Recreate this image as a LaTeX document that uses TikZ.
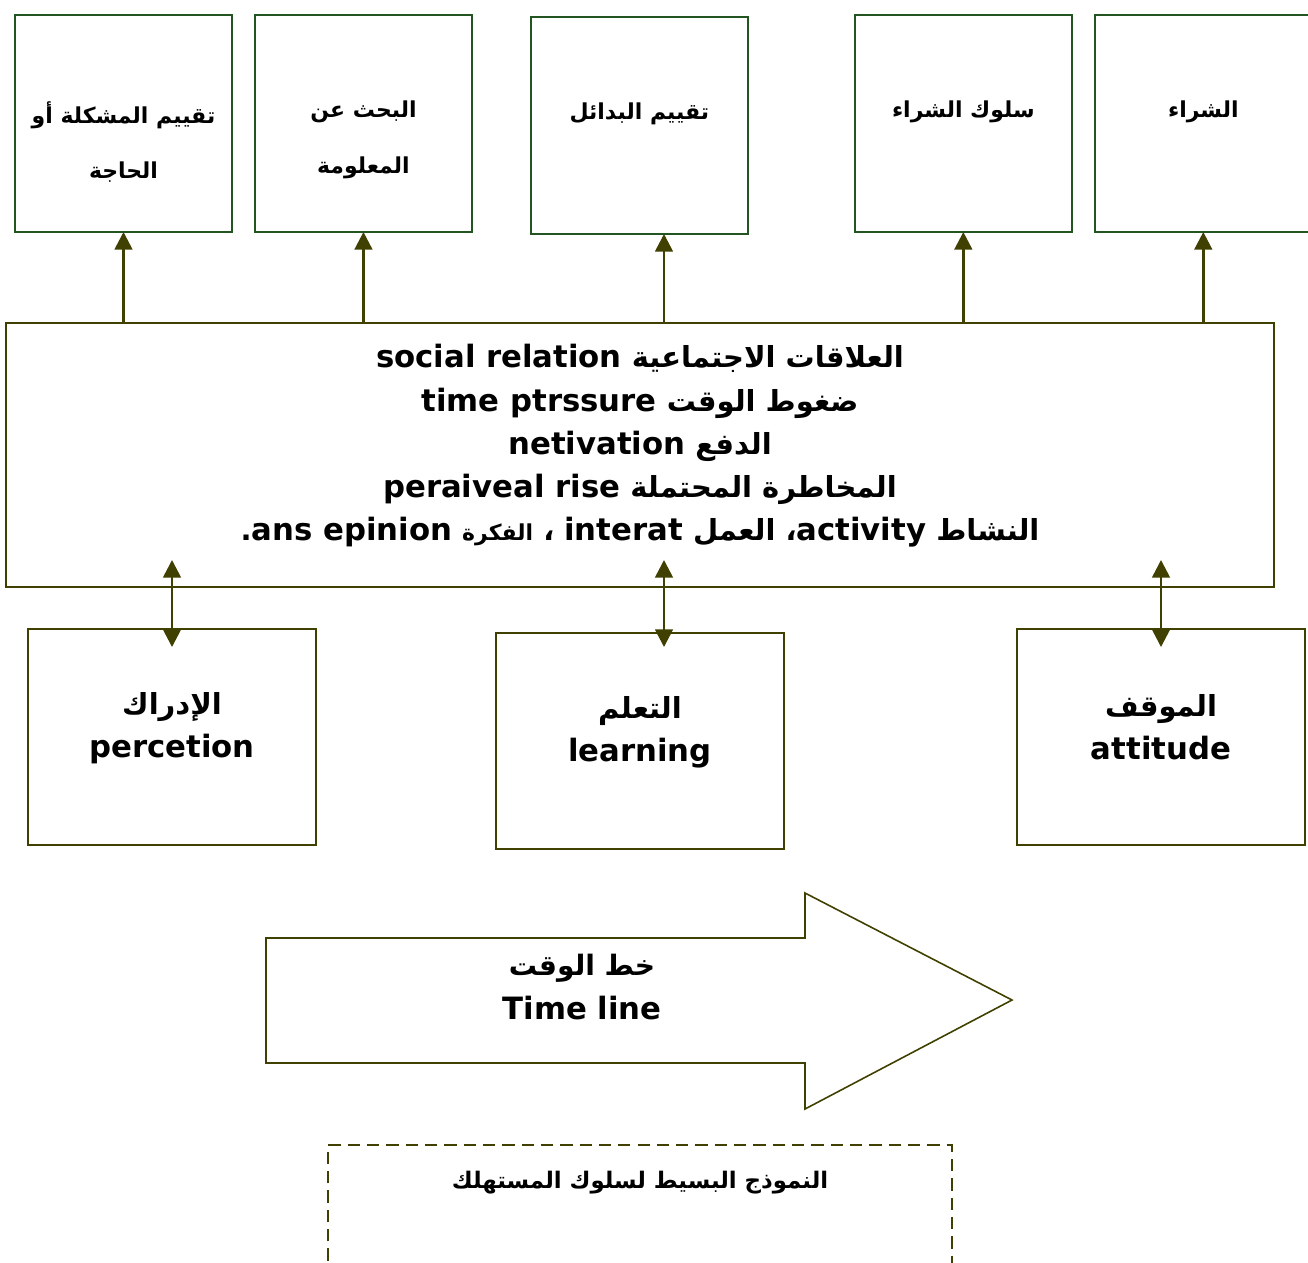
\documentclass[tikz,border=0pt]{standalone}
\usepackage{fontspec}
\setmainfont{DejaVu Sans}
\newfontfamily\arabicfont[Script=Arabic]{DejaVu Sans}
\TeXXeTstate=1
\usetikzlibrary{arrows.meta, positioning, calc}

\definecolor{stagegreen}{RGB}{34,85,34}
\definecolor{olivedark}{RGB}{64,64,0}

\newcommand{\artxt}[1]{{\arabicfont\beginR #1\endR}}
\newcommand{\lattxt}[1]{\beginL{\rmfamily\fontsize{17.5}{24.6}\selectfont #1}\endL}

\begin{document}
\begin{tikzpicture}[
    x=0.02cm, y=-0.02cm,
    % --- STYLES ---
    stagebox/.style={draw=stagegreen, line width=0.9pt, minimum width=4.34cm, minimum height=4.34cm, inner sep=0pt, outer sep=0pt},
    stagetext/.style={anchor=north, align=center, font=\bfseries\fontsize{12.5}{31.5}\selectfont},
    factorbox/.style={draw=olivedark, line width=0.9pt, minimum width=5.76cm, minimum height=4.32cm, inner sep=0pt, outer sep=0pt},
    bigtext/.style={align=center, font=\bfseries\fontsize{17.5}{24.6}\selectfont},
    arrow/.style={-{Triangle[length=10pt, width=10pt]}, line width=1.5pt, draw=olivedark, fill=olivedark},
    double arrow/.style={{Triangle[length=10pt, width=10pt]}-{Triangle[length=10pt, width=10pt]}, line width=1.5pt, draw=olivedark, fill=olivedark}
]
    \useasboundingbox (0,0) rectangle (1308,1262);

    % ==========================================
    % DECISION STAGES (Top Row)
    % ==========================================
    \node[stagebox] (problem) at (123.5,123.5) {};
    \node[stagebox, right=0.46cm of problem] (search) {};
    \node[stagebox, right=1.18cm of search, yshift=-0.04cm] (alternatives) {};
    \node[stagebox, right=2.14cm of alternatives, yshift=0.04cm] (behaviour) {};
    \node[stagebox, right=0.46cm of behaviour] (purchase) {};

    \node[stagetext] (problemtxt) at ([yshift=-1.6cm]problem.north) {\artxt{تقييم المشكلة أو}\\ \artxt{الحاجة}};
    \node[stagetext] (searchtxt) at ([yshift=-1.6cm]search.north) {\artxt{البحث عن}\\ \artxt{المعلومة}};
    \node[stagetext] (alternativestxt) at ([yshift=-1.6cm]alternatives.north) {\artxt{تقييم البدائل}};
    \node[stagetext] (behaviourtxt) at ([yshift=-1.6cm]behaviour.north) {\artxt{سلوك الشراء}};
    \node[stagetext] (purchasetxt) at ([yshift=-1.6cm]purchase.north) {\artxt{الشراء}};

    % ==========================================
    % INFLUENCING FACTORS (Middle Box)
    % ==========================================
    \node[draw=olivedark, line width=0.9pt, outer sep=0pt, minimum width=25.36cm, minimum height=5.28cm] (factors) at (640,455) {};
    \node[align=center, font=\bfseries\fontsize{16.5}{24.6}\selectfont] (factorlist) at (640,446) {%
        \artxt{العلاقات الاجتماعية \lattxt{social relation}}\\
        \artxt{ضغوط الوقت \lattxt{time ptrssure}}\\
        \artxt{الدفع \lattxt{netivation}}\\
        \artxt{المخاطرة المحتملة \lattxt{peraiveal rise}}\\
        \artxt{النشاط \lattxt{activity}، العمل \lattxt{interat} ، {\fontsize{12.5}{14}\selectfont الفكرة} \lattxt{ans epinion}.}};

    \coordinate (midline) at (664,0);

    % Arrows up to the stages
    \draw[arrow] (factors.north -| problem.south) -- (problem.south);
    \draw[arrow] (factors.north -| search.south) -- (search.south);
    \draw[arrow] (factors.north -| midline) -- (alternatives.south -| midline);
    \draw[arrow] (factors.north -| behaviour.south) -- (behaviour.south);
    \draw[arrow] (factors.north -| purchase.south) -- (purchase.south);

    % ==========================================
    % PSYCHOLOGICAL FACTORS (Bottom Row)
    % ==========================================
    \node[factorbox] (perception) at (172,737) {};
    \node[factorbox] (learning) at (640,741) {};
    \node[factorbox] (attitude) at (1161,737) {};

    \node[bigtext] (perceptiontxt) at (172,728) {{\fontsize{16.5}{24.6}\selectfont\artxt{الإدراك}}\\ percetion};
    \node[bigtext] (learningtxt) at (640,732) {{\fontsize{16.5}{24.6}\selectfont\artxt{التعلم}}\\ learning};
    \node[bigtext] (attitudetxt) at (1161,727) {{\fontsize{16.5}{24.6}\selectfont\artxt{الموقف}}\\ attitude};

    \draw[double arrow] ($(factors.south -| perception.north)+(0,-27)$) -- ($(perception.north)+(0,18)$);
    \draw[double arrow] ($(factors.south -| midline)+(0,-27)$) -- ($(learning.north -| midline)+(0,14)$);
    \draw[double arrow] ($(factors.south -| attitude.north)+(0,-27)$) -- ($(attitude.north)+(0,18)$);

    % ==========================================
    % TIME LINE ARROW
    % ==========================================
    \draw[draw=olivedark, line width=0.9pt] (266,938) -- (805,938) -- (805,893) -- (1012,1000)
        -- (805,1109) -- (805,1063) -- (266,1063) -- cycle;
    \node[bigtext] (timeline) at (582,987) {{\fontsize{16}{24.6}\selectfont\artxt{خط الوقت}}\\ Time line};

    % ==========================================
    % CAPTION (dashed frame)
    % ==========================================
    \draw[draw=olivedark, line width=0.9pt, dash pattern=on 7pt off 4pt]
        (328,1280) -- (328,1145) -- (952,1145) -- (952,1280);
    \node[font=\bfseries\fontsize{13}{16}\selectfont] (caption) at (640,1183) {\artxt{النموذج البسيط لسلوك المستهلك}};

\end{tikzpicture}
\end{document}
